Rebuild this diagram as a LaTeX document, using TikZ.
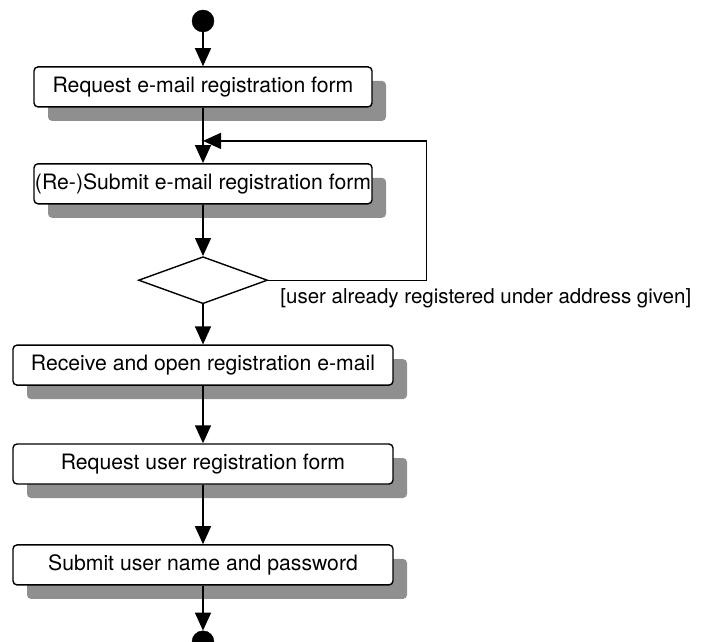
\documentclass[tikz,border=0pt]{standalone}
\usepackage{fontspec}
\setmainfont{TeX Gyre Heros}
\usetikzlibrary{arrows.meta,positioning,calc,shapes.geometric,shadows}
\definecolor{shadegray}{gray}{0.56}

\begin{document}
\begin{tikzpicture}[
  x=1pt, y=1pt,
  node distance=55pt,
  act/.style={draw, line width=1.4pt, rounded corners=4pt, fill=white,
    minimum height=40pt, inner sep=0pt, font=\fontsize{21.2}{25}\selectfont,
    drop shadow={shadow xshift=14pt, shadow yshift=-14pt, fill=shadegray, opacity=1}},
  narrow/.style={act, minimum width=338pt},
  wide/.style={act, minimum width=380pt},
  dec/.style={draw, diamond, line width=1.4pt, minimum width=129pt,
    minimum height=47pt, inner sep=0pt},
  dot/.style={circle, draw, fill=black, minimum size=22pt, inner sep=0pt},
  arr/.style={-{Triangle[length=18pt, width=16pt]}, line width=1.4pt}
]
\useasboundingbox (0,0) rectangle (704,-642);

\node[dot] (start) at (203,-21) {};

\node[narrow, below=34pt of start] (reqmail) {Request e-mail registration form};

\node[narrow, below=55.5pt of reqmail] (submail) {(Re-)Submit e-mail registration form};

\node[dec, below=51.5pt of submail] (known) {};

\node[wide, below=40pt of known] (openmail) {Receive and open registration e-mail};

\node[wide, below=57.5pt of openmail] (requser) {Request user registration form};

\node[wide, below=59.5pt of requser] (subuser) {Submit user name and password};

\node[dot, below=45pt of subuser] (stop) {};

\node[anchor=base west, inner sep=0pt, font=\fontsize{20.5}{24}\selectfont] (guard)
  at ($(known.east)+(12,-23)$) {[user already registered under address given]};

\coordinate (merge) at ($(reqmail.south)!0.6!(submail.north)$);
\coordinate (back) at ($(known.east)+(158,0)$);

\draw[arr] (start) -- (reqmail);
\draw[arr] (reqmail) -- (submail);
\draw[arr] (submail) -- (known);
\draw[arr] (known.east) -- (back) |- (merge);
\draw[arr] (known) -- (openmail);
\draw[arr] (openmail) -- (requser);
\draw[arr] (requser) -- (subuser);
\draw[arr] (subuser) -- (stop);
\end{tikzpicture}
\end{document}
